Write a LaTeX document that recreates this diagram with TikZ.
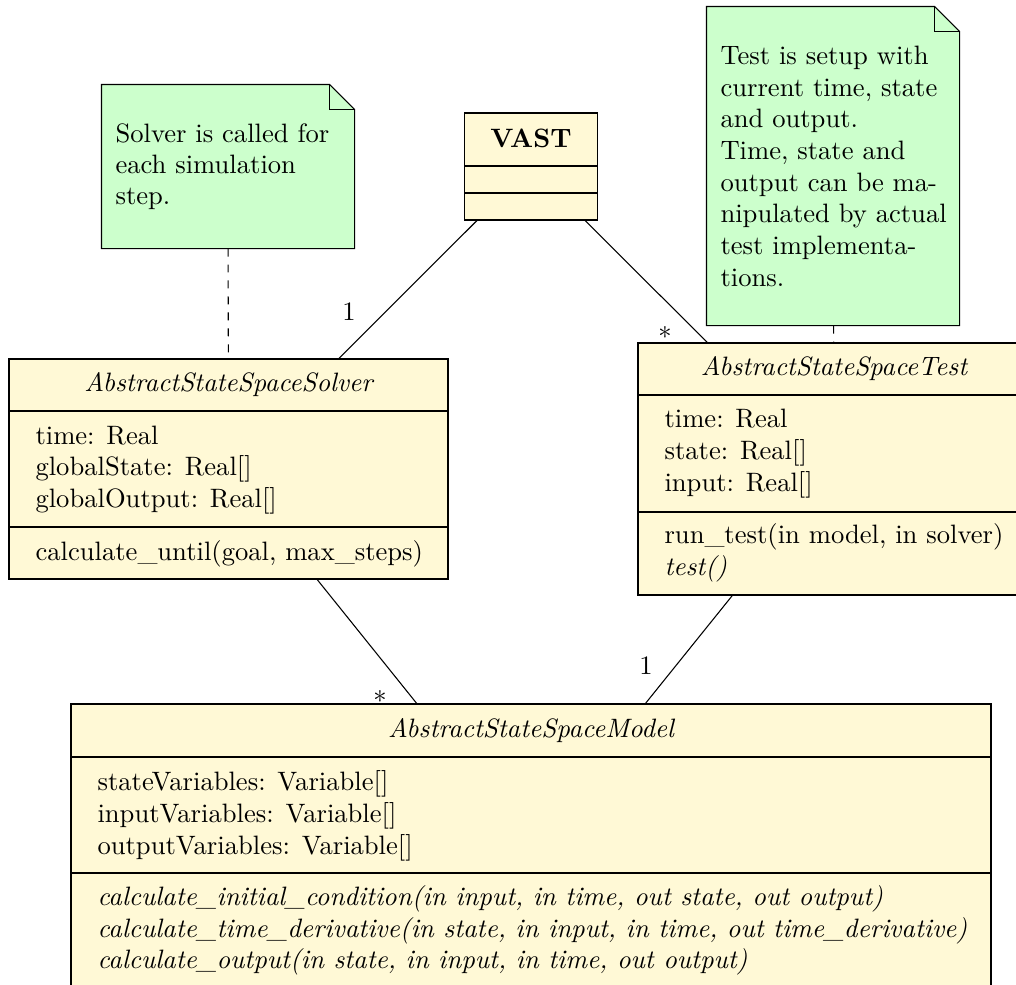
\documentclass[tikz,border=0pt]{standalone}
\usetikzlibrary{fit,calc}
\definecolor{classfill}{RGB}{255,249,214}
\definecolor{notefill}{RGB}{204,255,204}
\begin{document}
\begin{tikzpicture}[x=0.3759pt, y=-0.3759pt,
  box/.style={draw=black, fill=classfill, inner sep=0pt, line width=0.4pt},
  area/.style={inner sep=0pt},
  notebody/.style={draw=black, fill=notefill, line width=0.4pt},
  txt/.style={anchor=base west, inner sep=0pt},
  ctr/.style={anchor=base, inner sep=0pt},
  conn/.style={draw=black, line width=0.4pt},
  notelink/.style={draw=black, line width=0.4pt, dashed}]
\useasboundingbox (0,0) rectangle (1016,985);

% ---------- notes ----------
\node[area, fit={(102,85) (354,248)}] (snote) {};
\path[notebody] (snote.north west) -- ($(snote.north east)+(-25,0)$) -- ($(snote.north east)+(0,25)$) -- (snote.south east) -- (snote.south west) -- cycle;
\draw[line width=0.4pt] ($(snote.north east)+(-25,0)$) -- ($(snote.north east)+(-25,25)$) -- ($(snote.north east)+(0,25)$);
\node[txt] (sn1) at (115,142) {Solver is called for};
\node[txt] (sn2) at (115,173) {each simulation};
\node[txt] (sn3) at (115,204) {step.};

\node[area, fit={(707,7) (959,325)}] (tnote) {};
\path[notebody] (tnote.north west) -- ($(tnote.north east)+(-25,0)$) -- ($(tnote.north east)+(0,25)$) -- (tnote.south east) -- (tnote.south west) -- cycle;
\draw[line width=0.4pt] ($(tnote.north east)+(-25,0)$) -- ($(tnote.north east)+(-25,25)$) -- ($(tnote.north east)+(0,25)$);
\node[txt] (tn1) at (720,64) {Test is setup with};
\node[txt] (tn2) at (720,96) {current time, state};
\node[txt] (tn3) at (720,127) {and output.};
\node[txt] (tn4) at (720,159) {Time, state and};
\node[txt] (tn5) at (720,191) {output can be ma-};
\node[txt] (tn6) at (720,222) {nipulated by actual};
\node[txt] (tn7) at (720,254) {test implementa-};
\node[txt] (tn8) at (720,286) {tions.};

% ---------- VAST ----------
\node[box, fit={(464.5,113) (597.5,220)}] (vast) {};
\draw[line width=0.4pt] (464.5,166) -- (597.5,166);
\draw[line width=0.4pt] (464.5,193) -- (597.5,193);
\node[ctr, font=\bfseries] (vastt) at (531,147) {VAST};

% ---------- Solver ----------
\node[box, fit={(9,359) (448,579)}] (solver) {};
\draw[line width=0.4pt] (9,411) -- (448,411);
\draw[line width=0.4pt] (9,527) -- (448,527);
\node[ctr, font=\itshape] (solvert) at (228.5,391) {AbstractStateSpaceSolver};
\node[txt] (sa1) at (35,444) {time: Real};
\node[txt] (sa2) at (35,475.5) {globalState: Real[]};
\node[txt] (sa3) at (35,507) {globalOutput: Real[]};
\node[txt] (so1) at (35,560) {calculate\_until(goal, max\_steps)};

% ---------- Test ----------
\node[box, fit={(638,343) (1030,595)}] (test) {};
\draw[line width=0.4pt] (638,395) -- (1030,395);
\draw[line width=0.4pt] (638,512) -- (1030,512);
\node[ctr, font=\itshape] (testt) at (834,375) {AbstractStateSpaceTest};
\node[txt] (ta1) at (664,427) {time: Real};
\node[txt] (ta2) at (664,459) {state: Real[]};
\node[txt] (ta3) at (664,491) {input: Real[]};
\node[txt] (to1) at (664,543) {run\_test(in model, in solver)};
\node[txt, font=\itshape] (to2) at (664,575) {test()};

% ---------- Model ----------
\node[box, fit={(71,704) (991,988)}] (model) {};
\draw[line width=0.4pt] (71,757) -- (991,757);
\draw[line width=0.4pt] (71,873) -- (991,873);
\node[ctr, font=\itshape] (modelt) at (531,737) {AbstractStateSpaceModel};
\node[txt] (ma1) at (97,790) {stateVariables: Variable[]};
\node[txt] (ma2) at (97,822) {inputVariables: Variable[]};
\node[txt] (ma3) at (97,854) {outputVariables: Variable[]};
\node[txt, font=\itshape] (mo1) at (97,905) {calculate\_initial\_condition(in input, in time, out state, out output)};
\node[txt, font=\itshape] (mo2) at (97,937) {calculate\_time\_derivative(in state, in input, in time, out time\_derivative)};
\node[txt, font=\itshape] (mo3) at (97,968) {calculate\_output(in state, in input, in time, out output)};

% ---------- connectors ----------
\draw[conn] (vast) -- (solver);
\draw[conn] (vast) -- (test);
\draw[conn] (solver) -- (model);
\draw[conn] (test) -- (model);
\draw[notelink] (snote) -- (solver);
\draw[notelink] (tnote) -- (test);

% ---------- multiplicities ----------
\node[ctr] (m1) at (349,320) {1};
\node[ctr] (m2) at (665,346.5) {*};
\node[ctr] (m3) at (380,710.5) {*};
\node[ctr] (m4) at (646,674) {1};
\end{tikzpicture}
\end{document}
